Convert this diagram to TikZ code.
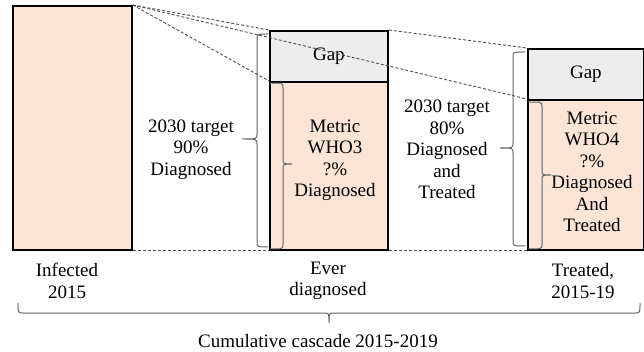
\documentclass[tikz,border=0pt]{standalone}
\usepackage{fontspec}
\setmainfont{Liberation Serif}
\definecolor{peach}{HTML}{FBE5D6}
\definecolor{gapgray}{HTML}{EDEDED}
\definecolor{dashgray}{RGB}{80,80,80}
\definecolor{bracegray}{RGB}{100,100,100}
\tikzset{
  box/.style={draw=black, line width=1.8pt, fill=peach, anchor=north west, inner sep=0pt},
  gapbox/.style={box, fill=gapgray},
  lbl/.style={align=center, inner sep=0pt, font=\fontsize{19}{21.5}\selectfont},
  dashln/.style={draw=dashgray, line width=0.9pt, dash pattern=on 3pt off 2pt},
  brc/.style={draw=bracegray, line width=1pt}
}
\newcommand{\vbrc}[6]{% xe, xv, xc, yt, ym, yb
  \draw[brc] (#1,#4) .. controls (#2,#4) .. (#2,{#4+5}) -- (#2,{#5-5})
    .. controls (#2,#5) .. (#3,#5) .. controls (#2,#5) .. (#2,{#5+5})
    -- (#2,{#6-5}) .. controls (#2,#6) .. (#1,#6);}
\newcommand{\hbrc}[6]{% ye, yh, yc, xl, xm, xr
  \draw[brc] (#4,#1) .. controls (#4,#2) .. ({#4+5},#2) -- ({#5-5},#2)
    .. controls (#5,#2) .. (#5,#3) .. controls (#5,#2) .. ({#5+5},#2)
    -- ({#6-5},#2) .. controls (#6,#2) .. (#6,#1);}
\begin{document}
\begin{tikzpicture}[x=1pt,y=-1pt]
\useasboundingbox (0,0) rectangle (644,352);
% boxes
\node[box, minimum width=119pt, minimum height=244pt] (inf) at (12,5) {};
\node[gapbox, minimum width=118pt, minimum height=51pt, font=\fontsize{19}{21.5}\selectfont] (egap) at (269,30) {Gap};
\node[box, minimum width=118pt, minimum height=168pt] (emet) at (269,81) {};
\node[gapbox, minimum width=116pt, minimum height=51pt, font=\fontsize{19}{21.5}\selectfont] (tgap) at (527,48) {Gap};
\node[box, minimum width=116pt, minimum height=150pt] (tmet) at (527,99) {};
% braces
\vbrc{268}{257}{242}{34}{139}{247}
\vbrc{270}{283}{292}{83}{164}{249}
\vbrc{525}{513}{500}{52}{148}{246}
\vbrc{528}{542}{551}{102}{175}{249}
\hbrc{303}{313}{323}{18}{329}{640}
% dashed lines
\draw[dashln] (inf.north east) -- (egap.north west);
\draw[dashln] (inf.north east) -- (emet.north west);
\draw[dashln] (inf.north east) -- (tmet.north west);
\draw[dashln] (egap.north east) -- (tgap.north west);
\draw[dashln] (inf.south east) -- (emet.south west);
\draw[dashln] (emet.south east) -- (tmet.south west);
% texts
\node[lbl] (emtxt) at (335,160.5) {Metric\\WHO3\\?\%\\Diagnosed};
\node[lbl] (tmtxt) at (592,172) {Metric\\WHO4\\?\%\\Diagnosed\\And\\Treated};
\node[lbl] (t90) at (191,149.5) {2030 target\\90\%\\Diagnosed};
\node[lbl] (t80) at (447,149.5) {2030 target\\80\%\\Diagnosed\\and\\Treated};
\node[lbl] (linf) at (67,281) {Infected\\2015};
\node[lbl] (lever) at (328,281) {Ever\\diagnosed};
\node[lbl] (ltrt) at (583,281) {Treated,\\2015-19};
\node[lbl, anchor=base] (lcum) at (318,347) {Cumulative cascade 2015-2019};
\end{tikzpicture}
\end{document}
